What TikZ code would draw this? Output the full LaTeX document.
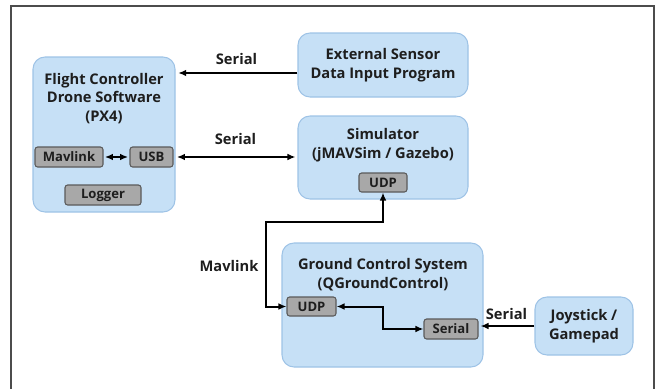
\documentclass[tikz,border=0pt]{standalone}
\usepackage{fontspec}
\setmainfont{Open Sans}
\usetikzlibrary{arrows.meta,positioning}
\definecolor{boxblue}{HTML}{C6E0F6}
\definecolor{boxedge}{HTML}{9EC3E6}
\definecolor{portgray}{HTML}{A8A8A8}
\definecolor{portedge}{HTML}{5A5A5A}
\definecolor{txt}{HTML}{1E1E1E}

\begin{document}
\begin{tikzpicture}[
  x=0.75pt, y=-0.75pt,
  every node/.style={font=\fontsize{11}{14}\selectfont\bfseries, text=txt},
  unit/.style={draw=boxedge, line width=0.8pt, fill=boxblue, rounded corners=9pt, align=center},
  port/.style={draw=portedge, line width=0.8pt, fill=portgray, rounded corners=2pt,
    inner sep=0pt, font=\fontsize{9.8}{11}\selectfont\bfseries},
  title/.style={align=center, inner sep=0pt},
  arr/.style={-{Latex[length=6pt,width=5pt]}, line width=1.5pt},
  biarr/.style={{Latex[length=6pt,width=5pt]}-{Latex[length=6pt,width=5pt]}, line width=1.5pt}
]
  \useasboundingbox (0,0) rectangle (661,389);
  \draw[line width=1.2pt, draw=black!70] (11,395) -- (11,6) -- (654,6) -- (654,395);

  % main blocks
  \node[unit, minimum width=106.5pt, minimum height=116.25pt] (fc) at (104,134.5) {};
  \node[unit, minimum width=127.5pt, minimum height=48pt] (ext) at (383,65) {External Sensor\\Data Input Program};
  \node[unit, minimum width=127.5pt, minimum height=62.25pt] (sim) at (383,157.5) {};
  \node[unit, minimum width=150.75pt, minimum height=93pt] (gcs) at (382.5,305) {};
  \node[unit, minimum width=73.5pt, minimum height=43.5pt] (joy) at (584,326) {Joystick /\\Gamepad};

  \node[title] (fct) at (104,98.5) {Flight Controller\\Drone Software\\(PX4)};
  \node[title] (simt) at (383,145.5) {Simulator\\(jMAVSim / Gazebo)};
  \node[title] (gcst) at (383,274.5) {Ground Control System\\(QGroundControl)};

  % ports
  \node[port, minimum width=51pt, minimum height=15pt] (mav) at (69,157) {Mavlink};
  \node[port, minimum width=32.25pt, minimum height=15pt] (usb) at (151.5,157) {USB};
  \node[port, minimum width=57pt, minimum height=15pt] (log) at (103,195) {Logger};
  \node[port, minimum width=36pt, minimum height=14.25pt] (sudp) at (383,182.5) {UDP};
  \node[port, minimum width=36.75pt, minimum height=14.25pt] (gudp) at (311.5,306.5) {UDP};
  \node[port, minimum width=40.5pt, minimum height=15pt] (gser) at (451,329) {Serial};

  % links
  \coordinate (serin) at ([yshift=-6pt]ext.west);
  \draw[arr, shorten >=2pt] (serin) -- node[above=2pt] (ser1) {Serial} (serin -| fc.east);
  \draw[biarr, shorten <=2.5pt, shorten >=1.5pt] (usb.east) -- node[above=5pt] (ser2) {Serial} (usb.east -| sim.west);
  \draw[biarr, shorten <=1pt, shorten >=1pt] (mav.east) -- (usb.west);
  \draw[biarr] (sudp.south) -- ++(0,29) -| ([xshift=-15pt]gudp.west) -- (gudp.west);
  \node (mavl) at (229,266) {Mavlink};
  \draw[biarr] (gudp.east) -- ++(46,0) |- (gser.west);
  \draw[arr, shorten >=1.5pt] (joy.west) -- node[above=1pt] (ser3) {Serial} (joy.west -| gser.east);
\end{tikzpicture}
\end{document}
